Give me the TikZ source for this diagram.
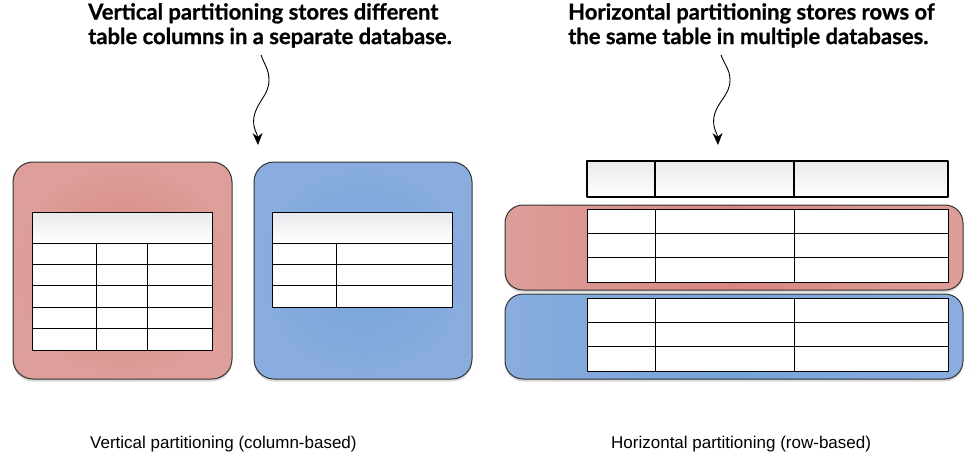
\documentclass[tikz,border=0pt]{standalone}
\usepackage{fontspec}
\setmainfont{Liberation Sans}
\newfontfamily\headfont{Lato}[BoldFeatures={FakeBold=0.8}]
\usetikzlibrary{shadows,arrows.meta}

\definecolor{redin}{HTML}{D7877F}
\definecolor{redout}{HTML}{DE9E9A}
\definecolor{bluein}{HTML}{76A3DA}
\definecolor{blueout}{HTML}{89ADDE}
\definecolor{headgrey}{HTML}{E9EAEC}

\begin{document}
\begin{tikzpicture}[x=1pt, y=-1pt, line join=round,
    dbbox/.style={draw=black!80, line width=1pt, drop shadow={opacity=0.3, shadow xshift=0pt, shadow yshift=-2.5pt}},
    redbox/.style={dbbox, rounded corners=20pt, inner color=redin, outer color=redout},
    bluebox/.style={dbbox, rounded corners=20pt, inner color=bluein, outer color=blueout},
    redband/.style={dbbox, rounded corners=18pt, left color=redout, right color=redout, middle color=redin},
    blueband/.style={dbbox, rounded corners=18pt, left color=blueout, right color=blueout, middle color=bluein},
    headfill/.style={top color=headgrey, bottom color=white},
    tbl/.style={draw=black, line width=0.9pt},
    title/.style={font=\headfont\bfseries\fontsize{22}{24.5}\selectfont, align=left, inner sep=0pt, anchor=north west},
    caption/.style={font=\fontsize{17}{20}\selectfont, inner sep=0pt, anchor=base west},
    wavy/.style={line width=0.9pt, -{Stealth[length=12pt, width=10pt]}}]
    \useasboundingbox (0,0) rectangle (978,458);

    % titles
    \node[title] (vtitle) at (88,3) {Vertical partitioning stores different\\table columns in a separate database.};
    \node[title] (htitle) at (568,3) {Horizontal partitioning stores rows of\\the same table in multiple databases.};

    % vertical partitioning
    \coordinate (V1) at (13,162);
    \coordinate (V2) at (232,379);
    \coordinate (W1) at (254,162);
    \coordinate (W2) at (472,379);
    \draw[redbox] (V1) rectangle (V2);
    \draw[bluebox] (W1) rectangle (W2);

    \fill[headfill] (32,212) rectangle (212,243);
    \fill[white] (32,243) rectangle (212,350);
    \draw[tbl] (32,212) rectangle (212,350);
    \draw[tbl] (32,243) -- (212,243);
    \foreach \y in {264,285,307,328}
        \draw[tbl] (32,\y) -- (212,\y);
    \foreach \x in {96,147}
        \draw[tbl] (\x,243) -- (\x,350);

    \fill[headfill] (272,212) rectangle (452,243);
    \fill[white] (272,243) rectangle (452,307);
    \draw[tbl] (272,212) rectangle (452,307);
    \draw[tbl] (272,243) -- (452,243);
    \foreach \y in {264,285}
        \draw[tbl] (272,\y) -- (452,\y);
    \draw[tbl] (336,243) -- (336,307);

    % horizontal partitioning
    \fill[headfill] (587,161) rectangle (948,197);
    \draw[tbl, line width=2pt] (587,161) rectangle (948,197);
    \foreach \x in {655,794}
        \draw[tbl, line width=2pt] (\x,161) -- (\x,197);

    \draw[redband] (505,205) rectangle (963,290);
    \draw[blueband] (505,294) rectangle (963,379);
    \foreach \top/\bot in {209/282, 298/371} {
        \fill[white] (587,\top) rectangle (948,\bot);
        \draw[tbl] (587,\top) rectangle (948,\bot);
        \foreach \f in {1,2}
            \draw[tbl] (587,{\top+\f*(\bot-\top)/3}) -- (948,{\top+\f*(\bot-\top)/3});
        \foreach \x in {655,794}
            \draw[tbl] (\x,\top) -- (\x,\bot);
    }

    % arrows
    \coordinate (va) at (261,55);
    \coordinate (vb) at (258,145);
    \coordinate (ha) at (721,55);
    \coordinate (hb) at (718,145);
    \draw[wavy] (va) to[out=-70,in=90] (269,80) to[out=-90,in=80] (254,117) to[out=-100,in=92] (vb);
    \draw[wavy] (ha) to[out=-70,in=90] (730,80) to[out=-90,in=80] (714,117) to[out=-100,in=92] (hb);

    % captions
    \node[caption] (vcap) at (90,448) {Vertical partitioning (column-based)};
    \node[caption] (hcap) at (611,448) {Horizontal partitioning (row-based)};
\end{tikzpicture}
\end{document}
